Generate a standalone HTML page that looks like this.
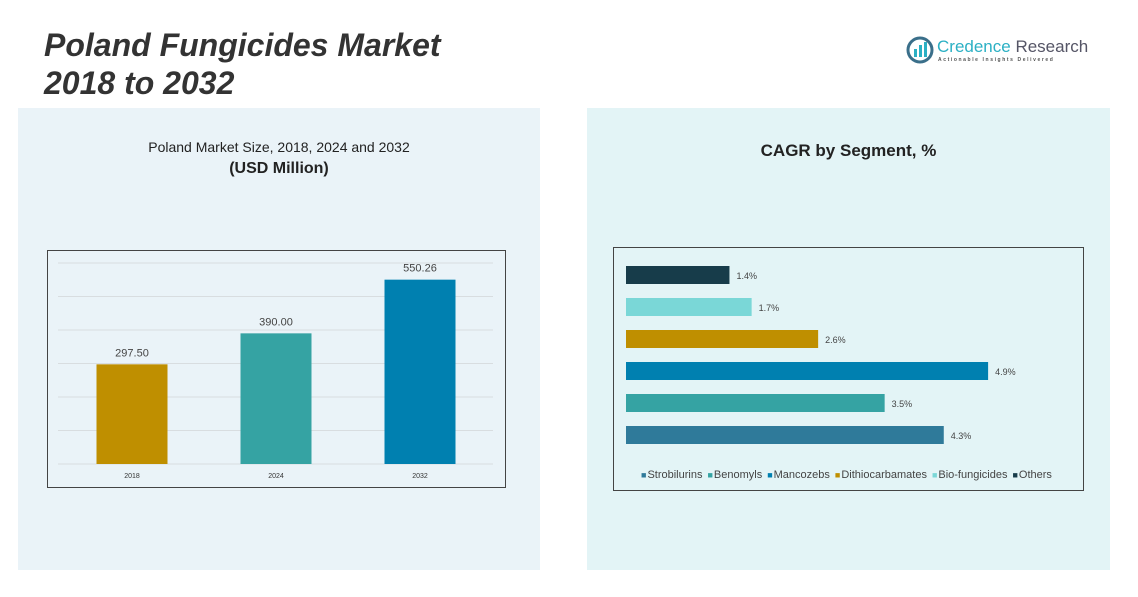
<!DOCTYPE html>
<html><head><meta charset="utf-8"><style>
body{margin:0;width:1138px;height:597px;background:#fff;font-family:"Liberation Sans",sans-serif;position:relative;overflow:hidden}
.abs{position:absolute}
</style></head><body>
<div class="abs" style="left:18px;top:108px;width:522px;height:462px;background:#eaf3f8"></div>
<div class="abs" style="left:587px;top:108px;width:523px;height:462px;background:#e3f4f6"></div>
<div class="abs" style="left:44px;top:26px;font-size:32px;font-weight:bold;font-style:italic;color:#333;line-height:38px">Poland Fungicides Market<br>2018 to 2032</div>
<div class="abs" style="left:906px;top:36px;width:190px">
<svg width="28" height="28" style="position:absolute;left:0;top:0"><circle cx="14" cy="14" r="12" fill="none" stroke="#3a6f8a" stroke-width="3"/><rect x="8" y="13" width="3" height="8" fill="#2bb0c4"/><rect x="13" y="9" width="3" height="12" fill="#2bb0c4"/><rect x="18" y="6" width="3" height="15" fill="#2bb0c4"/></svg>
<div style="position:absolute;left:31px;top:1px;font-size:17px;color:#2bb0c4;white-space:nowrap">Credence <span style="color:#556">Research</span></div>
<div style="position:absolute;left:32px;top:21px;font-size:5px;letter-spacing:1.6px;color:#555;white-space:nowrap;font-weight:bold">Actionable Insights Delivered</div>
</div>
<div class="abs" style="left:18px;width:522px;top:139px;text-align:center;font-size:14px;color:#222">Poland Market Size, 2018, 2024 and 2032</div>
<div class="abs" style="left:18px;width:522px;top:160px;text-align:center;font-size:16px;font-weight:bold;color:#222">(USD Million)</div>
<div class="abs" style="left:587px;width:523px;top:141px;text-align:center;font-size:17px;font-weight:bold;color:#222">CAGR by Segment, %</div>
<svg class="abs" id="bar" style="left:0;top:0" width="1138" height="597"></svg>
<script>
const years=["2018","2024","2032"];
const sizes=[297.50,390.00,550.26];
const sizeLabels=["297.50","390.00","550.26"];
const yTicks=[0,100,200,300,400,500,600];
const segments=["Others","Bio-fungicides","Dithiocarbamates","Mancozebs","Benomyls","Strobilurins"];
const cagr=[1.4,1.7,2.6,4.9,3.5,4.3];
const cagrLabels=["1.4%","1.7%","2.6%","4.9%","3.5%","4.3%"];
const legendOrder=["Strobilurins","Benomyls","Mancozebs","Dithiocarbamates","Bio-fungicides","Others"];
const NS="http://www.w3.org/2000/svg";
const svg=document.getElementById('bar');
function mk(t,a,p){const e=document.createElementNS(NS,t);for(const k in a)e.setAttribute(k,a[k]);(p||svg).appendChild(e);return e;}
const yearColors=["#bf8f00","#35a3a3","#0080b0"];
const segColors={"Others":"#173c4a","Bio-fungicides":"#7ad7d7","Dithiocarbamates":"#bf8f00","Mancozebs":"#0080b0","Benomyls":"#35a3a3","Strobilurins":"#2f7a9a"};
let b=mk('rect',{x:47.5,y:250.5,width:458,height:237,fill:'none',stroke:'#444','stroke-width':1});

const y0=464,yMax=600,yH=201;
const ys=v=>y0-v/yMax*yH;
yTicks.forEach(t=>{const l=mk('line',{x1:58,x2:493,y1:ys(t),y2:ys(t),stroke:'#d8dde0'});});
const bandStart=60,band=144,bw=71;
years.forEach((yr,i)=>{const cx=bandStart+band*i+band/2;
const r=mk('rect',{x:cx-bw/2,y:ys(sizes[i]),width:bw,height:y0-ys(sizes[i]),fill:yearColors[i]});

const t=mk('text',{x:cx,y:ys(sizes[i])-8,'text-anchor':'middle','font-size':11,fill:'#444'});t.textContent=sizeLabels[i];

const x=mk('text',{x:cx,y:478,'text-anchor':'middle','font-size':7,fill:'#333'});x.textContent=yr;
});
b=mk('rect',{x:613.5,y:247.5,width:470,height:243,fill:'none',stroke:'#444','stroke-width':1});

const x0=626,pxPer=73.9;
segments.forEach((s,i)=>{const y=266+32*i,w=cagr[i]*pxPer;
const r=mk('rect',{x:x0,y:y,width:w,height:18,fill:segColors[s]});

const t=mk('text',{x:x0+w+7,y:y+13,'font-size':9,fill:'#444'});t.textContent=cagrLabels[i];
});
const g=mk('text',{x:641,y:478,'font-size':11,fill:'#444'});

legendOrder.forEach((s,i)=>{const sq=mk('tspan',{fill:segColors[s],dx:i?5:0},g);sq.textContent='■';sq.setAttribute('font-size','9');
const tx=mk('tspan',{fill:'#444',dx:1},g);tx.textContent=s;});
</script>
</body></html>
